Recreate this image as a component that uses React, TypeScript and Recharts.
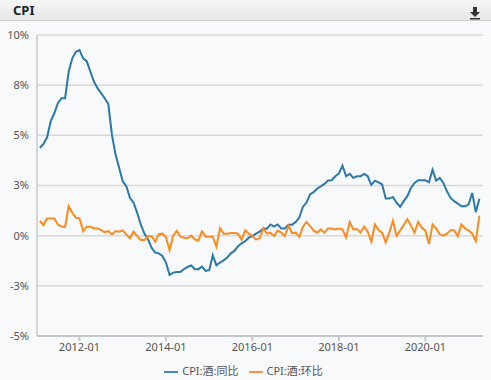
import React from 'react';
import { LineChart, Line, XAxis, YAxis, CartesianGrid, Legend } from 'recharts';

// Monthly data starting 2011-02 (index 0) through 2021-04 (index 122)
const startYear = 2011;
const startMonth = 2;

const yoy: number[] = [
  4.37, 4.57, 4.9, 5.7, 6.1, 6.6, 6.85, 6.85, 8.18, 8.84,
  9.17, 9.25, 8.84, 8.7, 8.18, 7.68, 7.35, 7.1, 6.85, 6.56,
  5.03, 4.04, 3.38, 2.71, 2.46, 1.89, 1.64, 1.14, 0.56, 0.1,
  -0.18, -0.6, -0.84, -0.88, -1.01, -1.34, -1.96, -1.84, -1.81, -1.81,
  -1.67, -1.56, -1.48, -1.67, -1.67, -1.54, -1.76, -1.72, -0.98, -1.48,
  -1.34, -1.23, -1.09, -0.88, -0.76, -0.52, -0.38, -0.27, -0.1, -0.02,
  0.1, 0.2, 0.36, 0.35, 0.56, 0.45, 0.56, 0.36, 0.36, 0.55,
  0.55, 0.68, 0.9, 1.43, 1.65, 2.05, 2.17, 2.35, 2.46, 2.58,
  2.75, 2.76, 2.96, 3.1, 3.49, 2.96, 3.08, 2.88, 2.96, 2.96,
  3.08, 2.96, 2.53, 2.74, 2.66, 2.55, 1.85, 1.85, 1.93, 1.64,
  1.44, 1.72, 1.97, 2.38, 2.63, 2.76, 2.76, 2.76, 2.66, 3.29,
  2.74, 2.88, 2.63, 2.21, 1.88, 1.72, 1.6, 1.47, 1.47, 1.55,
  2.13, 1.17, 1.84,
];

const mom: number[] = [
  0.73, 0.53, 0.86, 0.86, 0.86, 0.56, 0.45, 0.45, 1.47, 1.14,
  0.89, 0.86, 0.23, 0.45, 0.45, 0.36, 0.36, 0.28, 0.18, 0.23,
  0.06, 0.23, 0.2, 0.26, 0.06, -0.13, 0.2, -0.02, -0.22, -0.22,
  -0.03, -0.03, -0.3, 0.08, 0.1, -0.08, -0.72, 0, 0.24, -0.05,
  -0.1, -0.13, 0, -0.18, -0.25, 0.21, -0.05, -0.05, -0.05, -0.55,
  0.38, 0.1, 0.1, 0.13, 0.13, 0.1, -0.2, 0.27, 0.1, -0.03,
  -0.2, -0.12, 0.36, 0.1, 0.15, -0.02, 0.25, 0.15, -0.02, 0.48,
  0.13, 0.15, -0.07, 0.43, 0.68, 0.48, 0.25, 0.15, 0.31, 0.15,
  0.36, 0.36, 0.31, 0.36, 0.31, -0.1, 0.68, 0.31, 0.33, 0.15,
  0.45, 0.2, -0.3, 0.56, 0.28, 0.15, -0.33, 0.15, 0.74, -0.01,
  0.25, 0.53, 0.82, 0.5, 0.15, 0.68, 0.4, 0.25, -0.42, 0.56,
  0.35, 0.07, 0, 0.1, 0.27, 0.27, -0.03, 0.56, 0.36, 0.27,
  0.1, -0.27, 1.0,
];

const seriesNames = ['CPI:酒:同比', 'CPI:酒:环比'];
const xTickIdx = [11, 35, 59, 83, 107];
const xTickLabels = ['2012-01', '2014-01', '2016-01', '2018-01', '2020-01'];
const yTicks = [-5, -2.5, 0, 2.5, 5, 7.5, 10];

const monthLabel = (i: number) => {
  const m0 = startMonth - 1 + i;
  const y = startYear + Math.floor(m0 / 12);
  const m = (m0 % 12) + 1;
  return `${y}-${m < 10 ? '0' + m : m}`;
};

const data = yoy.map((v, i) => ({ idx: i, month: monthLabel(i), yoy: v, mom: mom[i] }));

const FONT = "'Noto Sans', 'Noto Sans CJK SC', sans-serif";
const BLUE = '#2a79a8';
const ORANGE = '#f98b1f';

export default function App() {
  return (
    <div style={{ position: 'fixed', left: 0, top: 0, width: 491, height: 380, background: '#f8f9fb', fontFamily: FONT, overflow: 'hidden' }}>
      <div style={{ position: 'absolute', left: 0, top: 0, width: 491, height: 20, background: 'linear-gradient(#f7f7f7, #e6e6e6)', borderBottom: '1px solid #cfcfcf', zIndex: 2 }}>
        <div style={{ position: 'absolute', left: 13, top: 1, fontSize: 13, fontWeight: 700, color: '#222', fontFamily: FONT }}>CPI</div>
        <svg style={{ position: 'absolute', left: 469, top: 6 }} width={12} height={14}>
          <rect x={4} y={1} width={4} height={5} fill="#333" />
          <polygon points="1,6 11,6 6,11" fill="#333" />
          <rect x={1} y={12} width={10} height={1.5} fill="#333" />
        </svg>
      </div>
      <div style={{ position: 'absolute', left: 0, top: 0 }}>
        <LineChart width={491} height={380} data={data} margin={{ top: 35, right: 8, left: 0, bottom: 14 }}>
          <CartesianGrid horizontal={true} vertical={false} stroke="#d9d9d9" strokeWidth={1.5} />
          <XAxis
            dataKey="idx"
            type="number"
            domain={[-0.8, 123]}
            ticks={xTickIdx}
            tickFormatter={(v: number) => xTickLabels[xTickIdx.indexOf(v)] ?? ''}
            stroke="#c4c7cc"
            strokeWidth={2}
            tickSize={5}
            tick={{ fill: '#555', fontSize: 11, fontFamily: FONT }}
            height={30}
          />
          <YAxis
            type="number"
            domain={[-5, 10]}
            ticks={yTicks}
            tickFormatter={(v: number) => v.toFixed(0) + '%'}
            stroke="#c4c7cc"
            strokeWidth={1.5}
            tickLine={false}
            tick={{ fill: '#555', fontSize: 11, fontFamily: FONT }}
            width={37}
            allowDataOverflow
          />
          <YAxis yAxisId="r" orientation="right" width={0} tick={false} tickLine={false} stroke="#c4c7cc" strokeWidth={1.5} domain={[0, 1]} />
          <Line type="linear" dataKey="yoy" name={seriesNames[0]} stroke={BLUE} strokeWidth={2} dot={false} isAnimationActive={false} />
          <Line type="linear" dataKey="mom" name={seriesNames[1]} stroke={ORANGE} strokeWidth={2} dot={false} isAnimationActive={false} />
          <Legend
            layout="horizontal"
            verticalAlign="middle"
            align="center"
            iconType="plainline"
            iconSize={14}
            wrapperStyle={{ top: 362, left: 3, width: 491, fontSize: 11, fontFamily: FONT }}
            formatter={(value: string) => <span style={{ color: '#555' }}>{value}</span>}
          />
        </LineChart>
      </div>
    </div>
  );
}
